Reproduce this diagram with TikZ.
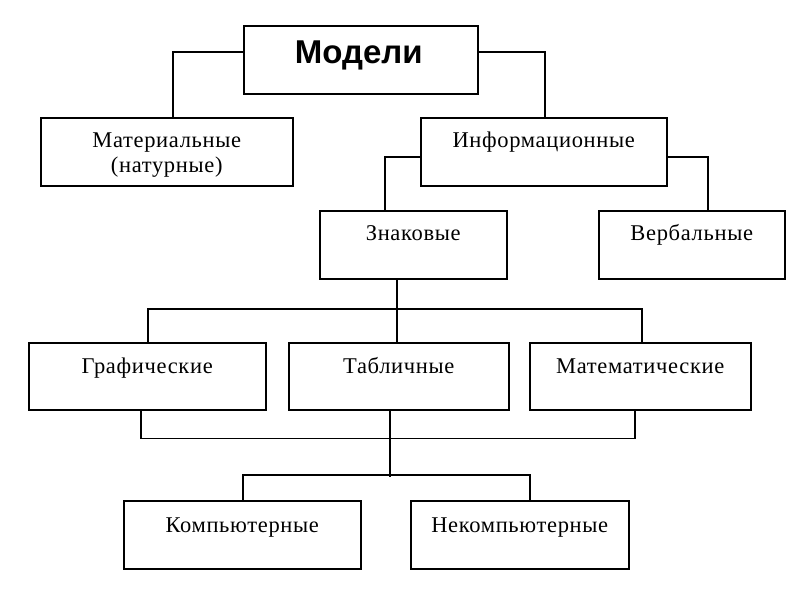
\documentclass[tikz,border=0pt]{standalone}
\usepackage{fontspec}
\setmainfont{Liberation Serif}[LetterSpace=3]
\newfontfamily\headfont{Liberation Sans}
\usetikzlibrary{calc}
\begin{document}
\begin{tikzpicture}[x=1pt,y=-1pt,
  box/.style={draw, line width=1.5pt, rectangle, inner sep=0pt, anchor=north west, minimum height=68pt},
  lbl/.style={anchor=base, inner sep=0pt, font=\fontsize{22.5}{27}\selectfont},
  conn/.style={line width=1.5pt}]
\fill[white] (0,0) rectangle (800,600);
\useasboundingbox (0,0) rectangle (800,600);
% boxes
\node[box, minimum width=234pt] (model) at (243,25) {};
\node[box, minimum width=252pt] (mat) at (40,117) {};
\node[box, minimum width=246pt] (info) at (420,117) {};
\node[box, minimum width=187pt] (zn) at (319,210) {};
\node[box, minimum width=186pt] (verb) at (598,210) {};
\node[box, minimum width=237pt, minimum height=67pt] (graf) at (28,342) {};
\node[box, minimum width=220pt, minimum height=67pt] (tab) at (288,342) {};
\node[box, minimum width=221pt, minimum height=67pt] (matem) at (529,342) {};
\node[box, minimum width=237pt] (komp) at (123,500) {};
\node[box, minimum width=218pt] (nek) at (410,500) {};
% labels
\node[anchor=base, inner sep=0pt, font=\headfont\bfseries\fontsize{33}{38}\selectfont] (tmodel) at ($(model.north)+(-2,38)$) {Модели};
\node[lbl] (tmat1) at ($(mat.north)+(0,30)$) {Материальные};
\node[lbl] (tmat2) at ($(mat.north)+(0,55)$) {(натурные)};
\node[lbl] (tinfo) at ($(info.north)+(0,30)$) {Информационные};
\node[lbl] (tzn) at ($(zn.north)+(0,30)$) {Знаковые};
\node[lbl] (tverb) at ($(verb.north)+(0,30)$) {Вербальные};
\node[lbl] (tgraf) at ($(graf.north)+(0,31)$) {Графические};
\node[lbl] (ttab) at ($(tab.north)+(0,31)$) {Табличные};
\node[lbl] (tmatem) at ($(matem.north)+(0,31)$) {Математические};
\node[lbl] (tkomp) at ($(komp.north)+(0,32)$) {Компьютерные};
\node[lbl] (tnek) at ($(nek.north)+(0,32)$) {Некомпьютерные};
% connectors
\draw[conn] ($(model.north west)+(0,27)$) -| ($(mat.north west)+(133,0)$);
\draw[conn] ($(model.north east)+(0,27)$) -| ($(info.north west)+(125,0)$);
\draw[conn] ($(info.north west)+(0,40)$) -| ($(zn.north west)+(66,0)$);
\draw[conn] ($(info.north east)+(0,40)$) -| ($(verb.north west)+(110,0)$);
\draw[conn] ($(zn.south west)+(78,0)$) -- ($(tab.north west)+(109,0)$);
\draw[conn] ($(graf.north west)+(120,0)$) |- ($(matem.north west)+(113,-33)$) -- ($(matem.north west)+(113,0)$);
\draw[conn] ($(graf.south west)+(113,0)$) |- ($(matem.south west)+(106,28)$) -- ($(matem.south west)+(106,0)$);
\draw[conn] ($(tab.south west)+(102,0)$) -- ($(tab.south west)+(102,66)$);
\draw[conn] ($(komp.north west)+(120,0)$) |- ($(nek.north west)+(120,-25)$) -- ($(nek.north west)+(120,0)$);
\end{tikzpicture}
\end{document}
